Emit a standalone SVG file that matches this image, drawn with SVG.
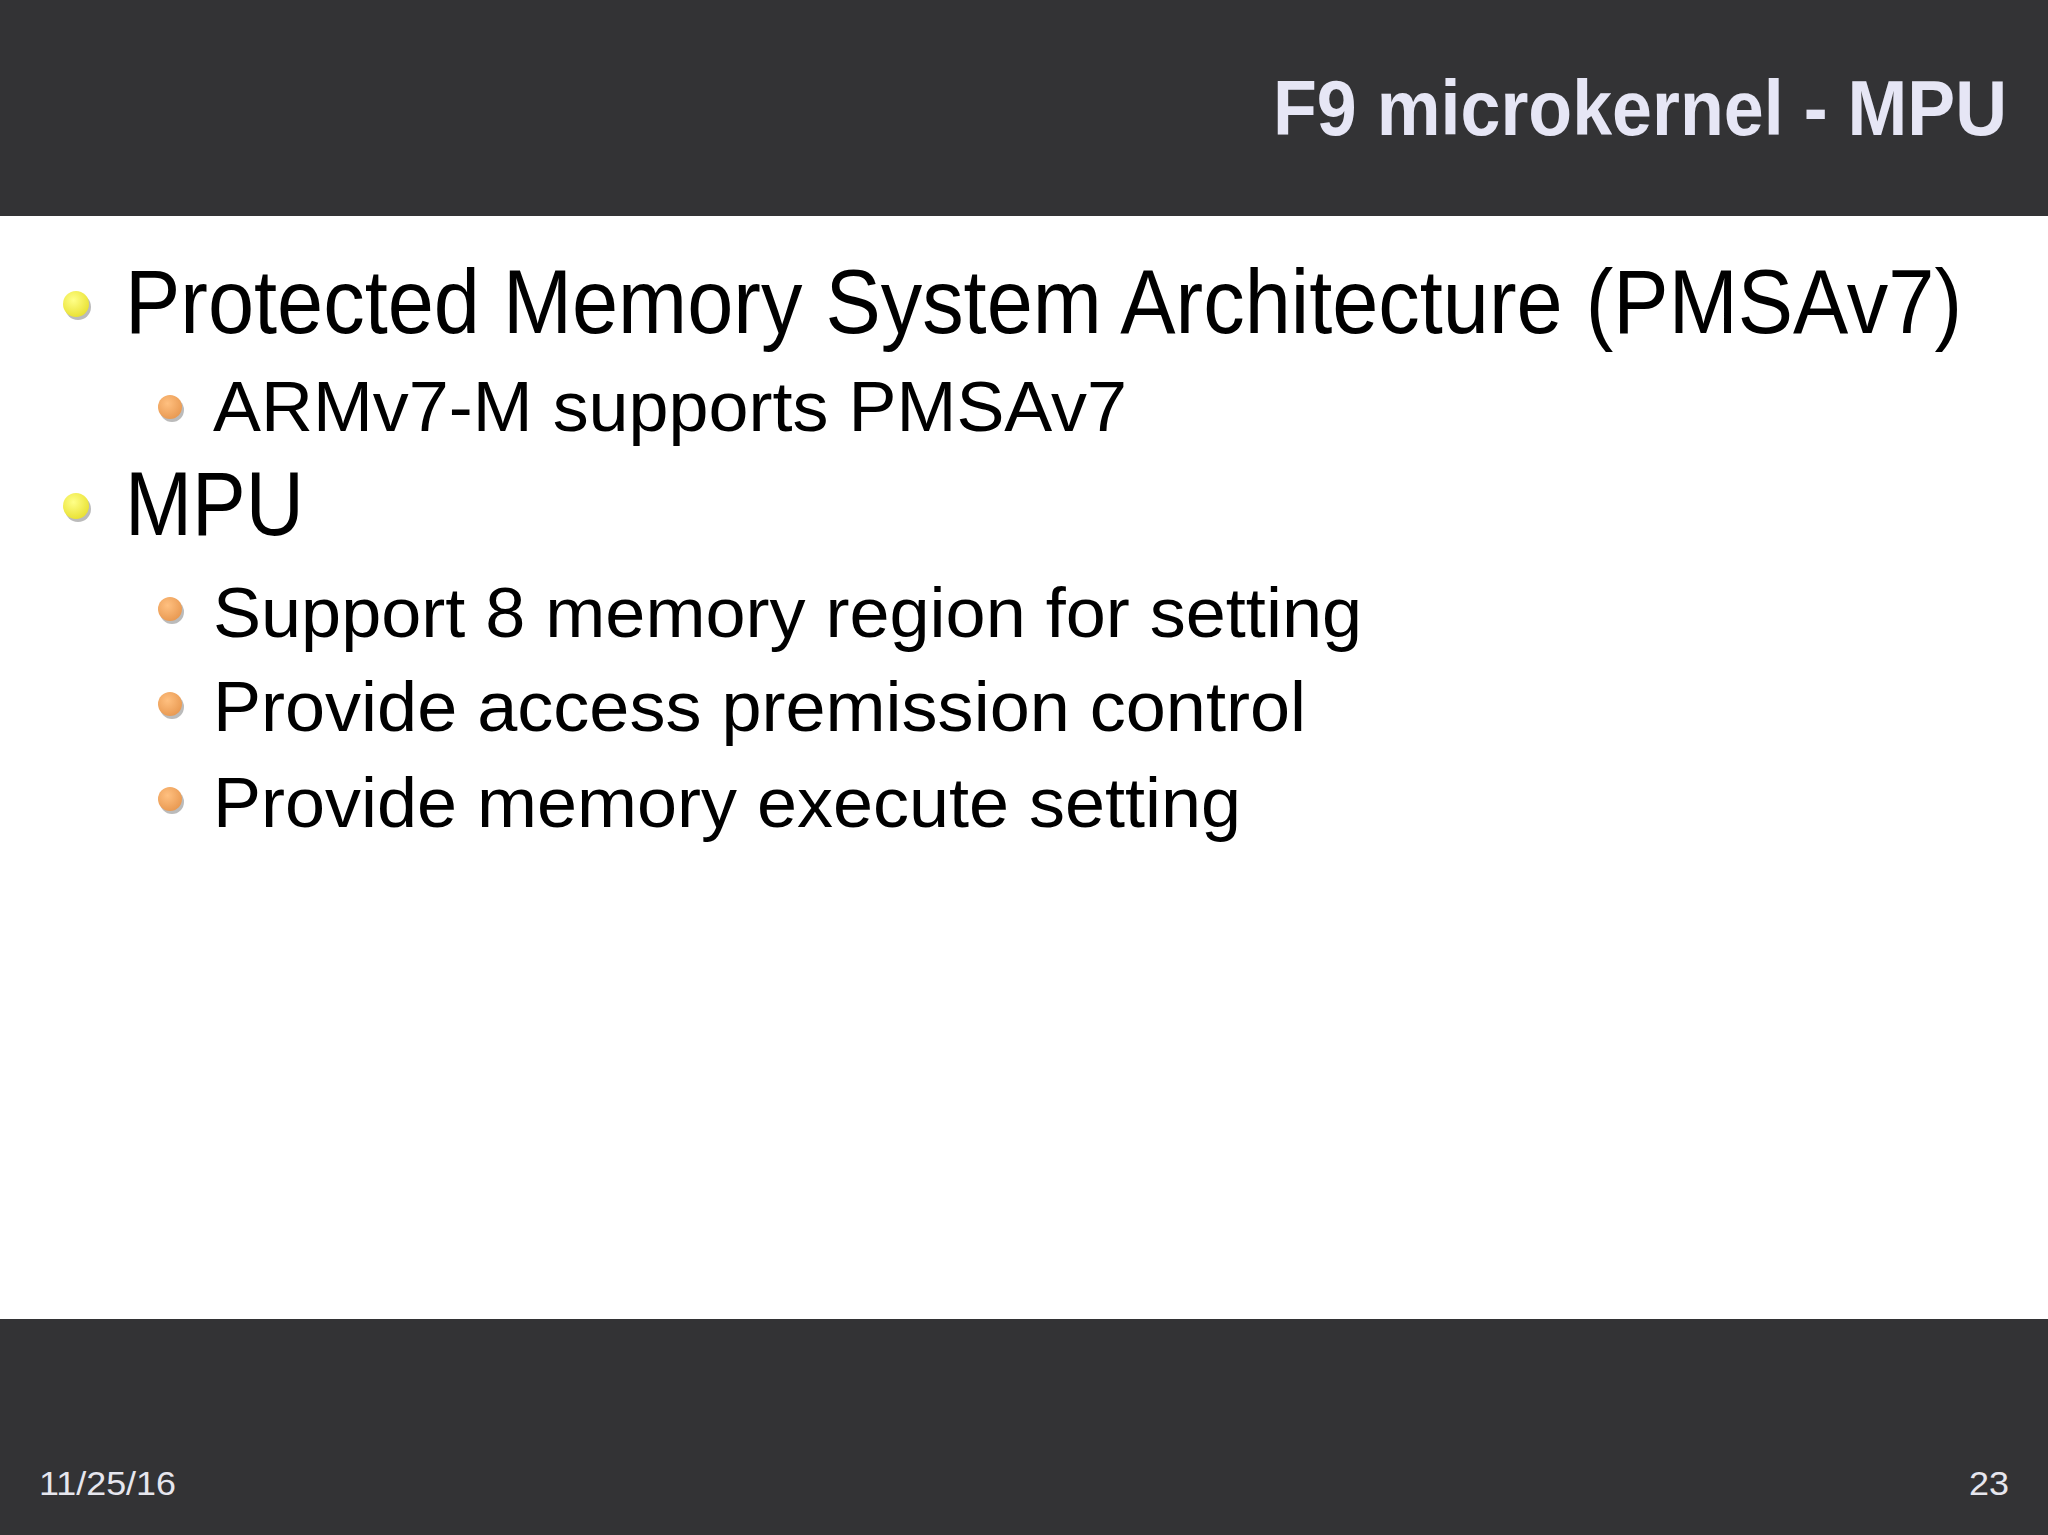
<svg xmlns="http://www.w3.org/2000/svg" width="2048" height="1535" viewBox="0 0 2048 1535">
<defs>
<style>
.t{font-family:"Liberation Sans",Arial,sans-serif;fill:#000}
.l1{font-size:90px}
.l2{font-size:70px}
.f{font-family:"Liberation Sans",Arial,sans-serif;font-size:33px;fill:#e6e6ee}
</style>
<radialGradient id="y" cx="0.4" cy="0.35" r="0.7"><stop offset="0" stop-color="#ffff88"/><stop offset="1" stop-color="#e8e030"/></radialGradient>
<radialGradient id="o" cx="0.4" cy="0.35" r="0.7"><stop offset="0" stop-color="#ffc080"/><stop offset="1" stop-color="#e89850"/></radialGradient>
</defs>
<rect width="2048" height="1535" fill="#ffffff"/>
<rect x="0" y="0" width="2048" height="216" fill="#333335"/>
<rect x="0" y="1319" width="2048" height="216" fill="#333335"/>
<text x="1273" y="135" textLength="734" lengthAdjust="spacingAndGlyphs" style="font-family:'Liberation Sans',Arial,sans-serif;font-size:78px;font-weight:bold;fill:#e6e6f5">F9 microkernel - MPU</text>
<g id="b1"><circle cx="76" cy="304" r="13" fill="#777" opacity="0.5" transform="translate(2,3)"/><circle cx="76" cy="304" r="13" fill="url(#y)"/><text class="t l1" x="125" y="333" textLength="1837" lengthAdjust="spacingAndGlyphs">Protected Memory System Architecture (PMSAv7)</text></g>
<g id="b1a"><circle cx="170" cy="407" r="12" fill="#777" opacity="0.5" transform="translate(2,3)"/><circle cx="170" cy="407" r="12" fill="url(#o)"/><text class="t l2" x="213" y="431" textLength="914" lengthAdjust="spacingAndGlyphs">ARMv7-M supports PMSAv7</text></g>
<g id="b2"><circle cx="76" cy="506" r="13" fill="#777" opacity="0.5" transform="translate(2,3)"/><circle cx="76" cy="506" r="13" fill="url(#y)"/><text class="t l1" x="125" y="535" textLength="179" lengthAdjust="spacingAndGlyphs">MPU</text></g>
<g id="b2a"><circle cx="170" cy="609" r="12" fill="#777" opacity="0.5" transform="translate(2,3)"/><circle cx="170" cy="609" r="12" fill="url(#o)"/><text class="t l2" x="213" y="637" textLength="1149" lengthAdjust="spacingAndGlyphs">Support 8 memory region for setting</text></g>
<g id="b2b"><circle cx="170" cy="704" r="12" fill="#777" opacity="0.5" transform="translate(2,3)"/><circle cx="170" cy="704" r="12" fill="url(#o)"/><text class="t l2" x="213" y="731" textLength="1093" lengthAdjust="spacingAndGlyphs">Provide access premission control</text></g>
<g id="b2c"><circle cx="170" cy="799" r="12" fill="#777" opacity="0.5" transform="translate(2,3)"/><circle cx="170" cy="799" r="12" fill="url(#o)"/><text class="t l2" x="213" y="827" textLength="1028" lengthAdjust="spacingAndGlyphs">Provide memory execute setting</text></g>
<text class="f" x="39" y="1495" textLength="137" lengthAdjust="spacingAndGlyphs">11/25/16</text>
<text class="f" x="1969" y="1495" textLength="40" lengthAdjust="spacingAndGlyphs">23</text>
</svg>
